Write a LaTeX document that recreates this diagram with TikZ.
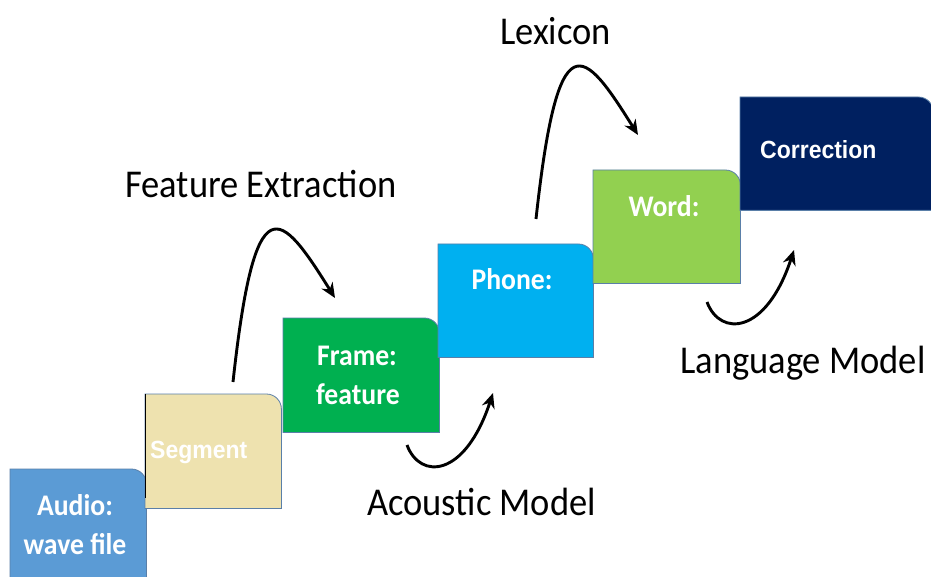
\documentclass[tikz,border=0pt]{standalone}
\usepackage{fontspec}
\setmainfont{Carlito}
\newfontfamily\arialfont{Liberation Sans}
\usetikzlibrary{arrows.meta}
\definecolor{audioblue}{HTML}{5B9BD5}
\definecolor{segkhaki}{HTML}{EEE2AF}
\definecolor{framegreen}{HTML}{00B050}
\definecolor{phonecyan}{HTML}{00B0F0}
\definecolor{wordlime}{HTML}{92D050}
\definecolor{corrnavy}{HTML}{002060}
\definecolor{boxedge}{HTML}{5A7FA8}
% slightly taller glyphs
\newcommand\tall[1]{\scalebox{1}[1.08]{#1}}
% fill a step box with only its top right corner rounded
\newcommand\stepfill[2]{%
  \filldraw[fill=#2, draw=boxedge, line width=0.8pt]
    (#1.south west) -- (#1.north west) -- ([xshift=-30pt]#1.north east)
    [rounded corners=15pt] -- (#1.north east) -- ([yshift=-30pt]#1.north east)
    [sharp corners] -- (#1.south east) -- cycle;}
\begin{document}
\begin{tikzpicture}[x=1pt,y=-1pt,
  stepbox/.style={rectangle, inner sep=0pt, anchor=north west},
  steplabel/.style={text=white, inner sep=0pt, anchor=base,
    font=\fontsize{27.7}{33}\selectfont\bfseries},
  arialabel/.style={text=white, inner sep=0pt, anchor=base west,
    font=\fontsize{23}{28}\selectfont\arialfont\bfseries},
  stagetext/.style={text=black, inner sep=0pt, anchor=base west,
    font=\fontsize{36.5}{44}\selectfont},
  curvearrow/.style={line width=2.9pt, -{Stealth[length=15pt,width=13pt]}}]
\useasboundingbox (0,0) rectangle (931,577);
\fill[white] (0,0) rectangle (931,577);

% the staircase of processing stages
\node[stepbox, minimum width=136pt, minimum height=112pt] (audio) at (10,469) {};
\node[stepbox, minimum width=136pt, minimum height=114pt] (segment) at (145,394) {};
\node[stepbox, minimum width=156pt, minimum height=114pt] (frame) at (283,318) {};
\node[stepbox, minimum width=155pt, minimum height=113pt] (phone) at (438,244) {};
\node[stepbox, minimum width=147pt, minimum height=113pt] (word) at (593,170) {};
\node[stepbox, minimum width=193pt, minimum height=113pt] (corr) at (740,97) {};
\stepfill{audio}{audioblue}
\stepfill{segment}{segkhaki}
\draw[black, line width=0.9pt] (segment.north west) -- ([yshift=10pt]segment.south west);
\stepfill{frame}{framegreen}
\stepfill{phone}{phonecyan}
\stepfill{word}{wordlime}
\stepfill{corr}{corrnavy}

% stage labels
\node[steplabel] (audiot1) at (75,515) {\tall{Audio:}};
\node[steplabel] (audiot2) at (75,554) {\tall{wave file}};
\node[arialabel] (segt) at (150,458) {\tall{Segment}};
\node[steplabel] (framet1) at (357,365) {\tall{Frame:}};
\node[steplabel] (framet2) at (358,404) {\tall{feature}};
\node[steplabel] (phonet) at (512,290) {\tall{Phone:}};
\node[steplabel] (wordt) at (664,217) {\tall{Word:}};
\node[arialabel] (corrt) at (760,159) {\tall{Correction}};

% models between the stages
\node[stagetext] (fe) at (125,198) {\tall{Feature Extraction}};
\node[stagetext] (lex) at (500,45) {\tall{Lexicon}};
\node[stagetext] (am) at (367,515) {\tall{Acoustic Model}};
\node[stagetext] (lm) at (680,373) {\tall{Language Model}};

% curved arrows
\coordinate (fe-a) at (233,382);
\coordinate (fe-b) at (335,298);
\coordinate (lex-a) at (536,219);
\coordinate (lex-b) at (638,135);
\coordinate (am-a) at (407,445);
\coordinate (am-b) at (493,393);
\coordinate (lm-a) at (707,302);
\coordinate (lm-b) at (794,250);
\draw[curvearrow] (fe-a) .. controls (255,180) and (280,210) .. (fe-b);
\draw[curvearrow] (lex-a) .. controls (558,17) and (583,47) .. (lex-b);
\draw[curvearrow] (am-a) .. controls (420,480) and (465,478) .. (am-b);
\draw[curvearrow] (lm-a) .. controls (720,337) and (766,335) .. (lm-b);
\end{tikzpicture}
\end{document}
